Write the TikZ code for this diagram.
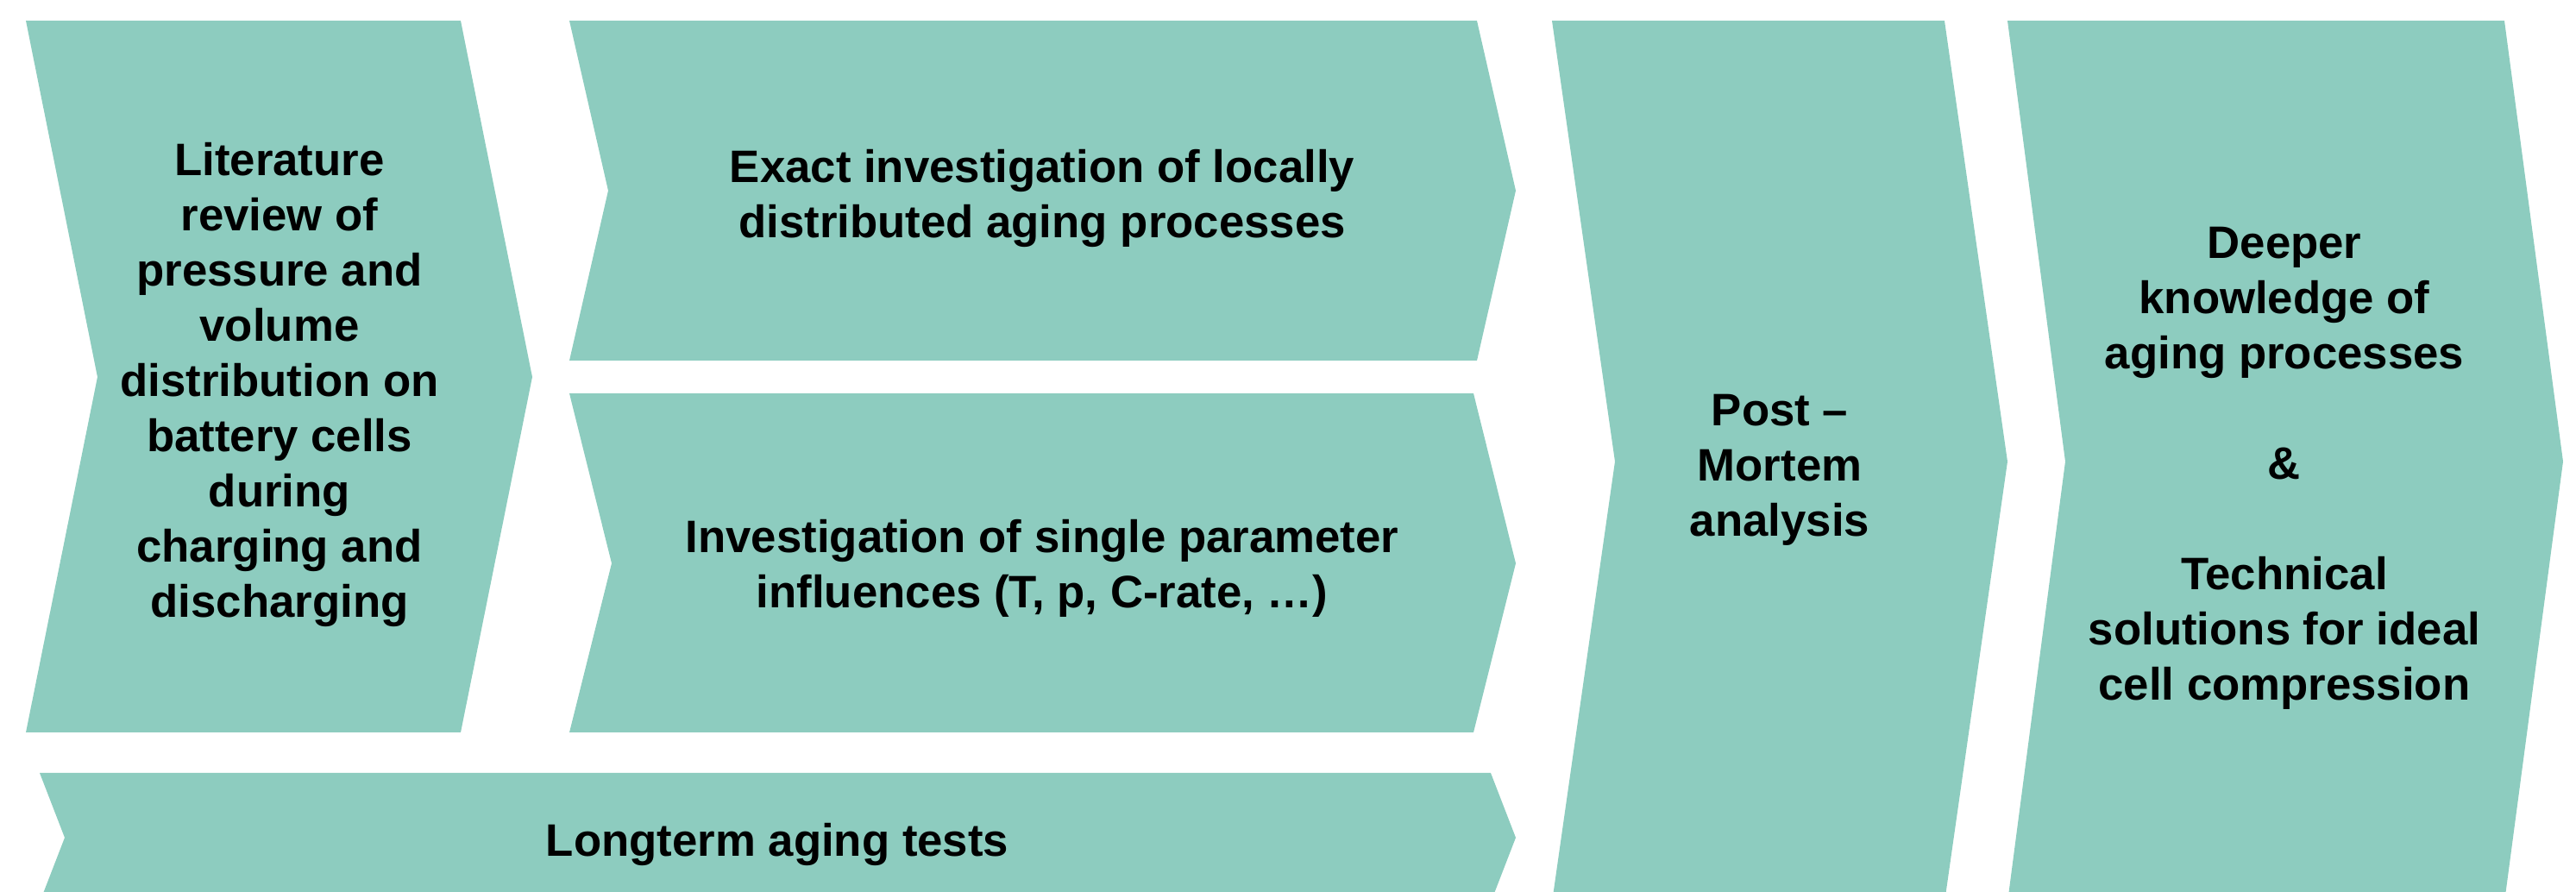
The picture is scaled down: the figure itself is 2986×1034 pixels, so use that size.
\documentclass[tikz,border=0pt]{standalone}
\usepackage{fontspec}
\setmainfont{Liberation Sans}
\usetikzlibrary{positioning}
\definecolor{cPhase}{HTML}{8DCCBF}
\tikzset{
  phase/.style    ={fill=cPhase},
  phasetext/.style={font=\bfseries\fontsize{15}{18.2}\selectfont,align=center,text=black},
}

\begin{document}
\begin{tikzpicture}[x=0.01cm,y=-0.01cm]
  \clip (0,0) rectangle (2986,1034);
  % literature phase
  \fill[phase] (30,24) -- (534,24) -- (617,437) -- (534,849) -- (30,849) -- (113,437) -- cycle;
  % the two investigations
  \fill[phase] (660,24) -- (1712,24) -- (1757,221) -- (1712,418) -- (660,418) -- (705,221) -- cycle;
  \fill[phase] (660,456) -- (1708,456) -- (1757,653) -- (1708,849) -- (660,849) -- (709,653) -- cycle;
  % long-term bar, runs past the lower edge
  \fill[phase] (46,896) -- (1728,896) -- (1757,971) -- (1728,1046) -- (46,1046) -- (75,971) -- cycle;
  % post mortem and outcome
  \fill[phase] (1799,24) -- (2254,24) -- (2327,535) -- (2254,1046) -- (1799,1046) -- (1872,535) -- cycle;
  \fill[phase] (2327,24) -- (2903,24) -- (2971,535) -- (2903,1046) -- (2327,1046) -- (2394,535) -- cycle;

  \node[phasetext] (review) at (324,446) {Literature\\review of\\pressure and\\volume\\distribution on\\battery cells\\during\\charging and\\discharging};
  \node[phasetext] (local) at (1208,230) {Exact investigation of locally\\distributed aging processes};
  \node[phasetext] (single) at (1208,659) {Investigation of single parameter\\influences (T, p, C-rate, …)};
  \node[phasetext] (longterm) at (901,979) {Longterm aging tests};
  \node[phasetext] (postmortem) at (2063,545) {Post –\\Mortem\\analysis};
  \node[phasetext] (outcome) at (2648,543) {Deeper\\knowledge of\\aging processes\\[18.2pt]\&\\[18.2pt]Technical\\solutions for ideal\\cell compression};
\end{tikzpicture}
\end{document}
